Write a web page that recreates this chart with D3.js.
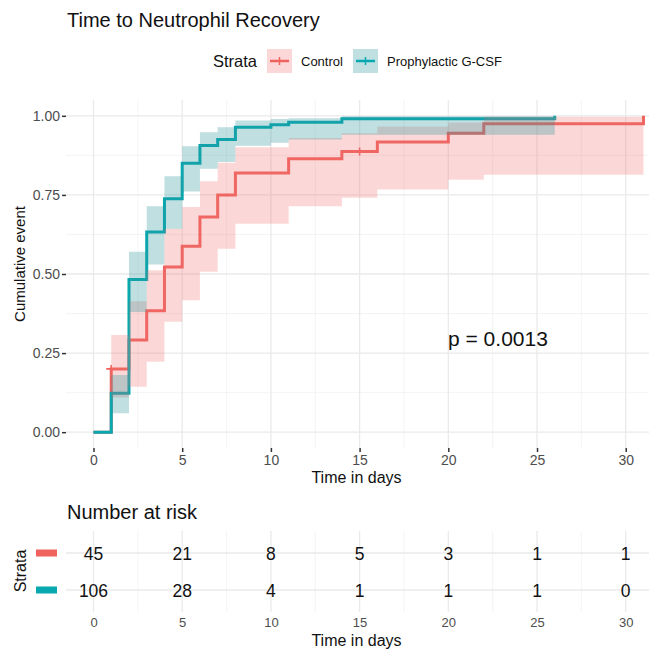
<!DOCTYPE html>
<html>
<head>
<meta charset="utf-8">
<script src="https://cdn.jsdelivr.net/npm/d3@7"></script>
<style>
body{margin:0;background:#fff;}
text{font-family:"Liberation Sans",Arial,sans-serif;}
</style>
</head>
<body>
<script>
// dane
var strata=["Control","Prophylactic G-CSF"];
var kolory=["#EF625E","#07A8B0"];
var koloryPasma=["#F07470","#2A969C"];
var przezroczystosc=[0.28,0.3];

var czasControl=[0,1,2,3,4,5,6,7,8,11,14,16,20,22,31];
var zdarzControl=[0,0.200,0.291,0.384,0.522,0.588,0.680,0.750,0.819,0.864,0.887,0.917,0.945,0.975,1];
var dolneControl=[0,0.110,0.144,0.223,0.349,0.417,0.507,0.580,0.659,0.714,0.741,0.767,0.798,0.814,1];
var gorneControl=[0,0.307,0.414,0.512,0.643,0.712,0.793,0.852,0.901,0.930,0.945,0.966,0.978,0.997,1];
var cenzControl=[1,15];

var czasGCSF=[0,1,2,3,4,5,6,7,8,10,11,14,26];
var zdarzGCSF=[0,0.123,0.483,0.633,0.738,0.850,0.906,0.925,0.964,0.972,0.980,0.991,1];
var dolneGCSF=[0,0.060,0.380,0.530,0.643,0.761,0.833,0.854,0.905,0.915,0.925,0.940,1];
var gorneGCSF=[0,0.181,0.570,0.714,0.809,0.904,0.948,0.964,0.985,0.990,0.992,0.999,1];
var cenzGCSF=[];

var czasyRyzyka=[0,5,10,15,20,25,30];
var ryzykoControl=[45,21,8,5,3,1,1];
var ryzykoGCSF=[106,28,4,1,1,1,0];

var tickiX=[0,5,10,15,20,25,30];
var tickiXmniejsze=[2.5,7.5,12.5,17.5,22.5,27.5];
var tickiY=[0,0.25,0.5,0.75,1];
var tickiYmniejsze=[0.125,0.375,0.625,0.875];
var pWartosc="p = 0.0013";

function zbuduj(czas,est,dol,gor)
{
	var punkty=[];
	for(var i=0;i<czas.length;i++)
		punkty.push({t:czas[i],est:est[i],dol:dol[i],gor:gor[i]});
	return punkty;
}
var krzywe=[zbuduj(czasControl,zdarzControl,dolneControl,gorneControl),
	zbuduj(czasGCSF,zdarzGCSF,dolneGCSF,gorneGCSF)];
var cenzury=[cenzControl,cenzGCSF];
var ryzyko=[ryzykoControl,ryzykoGCSF];

var svg=d3.select("body").append("svg")
	.attr("width",649)
	.attr("height",651);

var lewo=66, prawo=647, gora=100, dol=448;
var x=d3.scaleLinear().domain([-1.55,31.2]).range([lewo,prawo]);
var y=d3.scaleLinear().domain([-0.05,1.05]).range([dol,gora]);

//tytul
svg.append("text").attr("x",67).attr("y",27)
	.style("font-size","20px").style("fill","#111")
	.text("Time to Neutrophil Recovery");

//legenda
svg.append("text").attr("x",213).attr("y",67)
	.style("font-size","16.5px").style("fill","#111").text("Strata");
var legX=[267,353];
for(var k=0;k<2;k++)
{
	var g=svg.append("g").attr("transform","translate("+legX[k]+",49)");
	g.append("rect").attr("width",25).attr("height",24)
		.style("fill",koloryPasma[k]).style("opacity",przezroczystosc[k]);
	g.append("line").attr("x1",3).attr("x2",22).attr("y1",12).attr("y2",12)
		.style("stroke",kolory[k]).style("stroke-width",2.5);
	g.append("line").attr("x1",12.5).attr("x2",12.5).attr("y1",8).attr("y2",16)
		.style("stroke",kolory[k]).style("stroke-width",1.5);
	svg.append("text").attr("x",legX[k]+34).attr("y",66)
		.style("font-size","13px").style("fill","#111").text(strata[k]);
}

//siatka
var siatka=svg.append("g");
siatka.selectAll(".xm").data(tickiXmniejsze).enter().append("line")
	.attr("x1",function(d){return x(d);}).attr("x2",function(d){return x(d);})
	.attr("y1",gora).attr("y2",dol)
	.style("stroke","#EFEFEF").style("stroke-width",0.7);
siatka.selectAll(".ym").data(tickiYmniejsze).enter().append("line")
	.attr("x1",lewo).attr("x2",649)
	.attr("y1",function(d){return y(d);}).attr("y2",function(d){return y(d);})
	.style("stroke","#EFEFEF").style("stroke-width",0.7);
siatka.selectAll(".xM").data(tickiX).enter().append("line")
	.attr("x1",function(d){return x(d);}).attr("x2",function(d){return x(d);})
	.attr("y1",gora).attr("y2",dol)
	.style("stroke","#EAEAEA").style("stroke-width",1.3);
siatka.selectAll(".yM").data(tickiY).enter().append("line")
	.attr("x1",lewo).attr("x2",649)
	.attr("y1",function(d){return y(d);}).attr("y2",function(d){return y(d);})
	.style("stroke","#EAEAEA").style("stroke-width",1.3);

//osie
var osX=svg.append("g").attr("transform","translate(0,"+dol+")")
	.call(d3.axisBottom(x).tickValues(tickiX).tickSize(4).tickPadding(3));
var osY=svg.append("g").attr("transform","translate("+lewo+",0)")
	.call(d3.axisLeft(y).tickValues(tickiY).tickFormat(d3.format(".2f")).tickSize(4).tickPadding(2));
[osX,osY].forEach(function(o){
	o.select(".domain").remove();
	o.selectAll(".tick line").style("stroke","#333").style("stroke-width",1.5);
	o.selectAll(".tick text").style("font-size","14px").style("fill","#4D4D4D")
		.style("font-family","'Liberation Sans',Arial,sans-serif");
});
svg.append("text").attr("x",(lewo+prawo)/2).attr("y",483)
	.attr("text-anchor","middle").style("font-size","16px").style("fill","#111")
	.text("Time in days");
svg.append("text").attr("transform","translate(25,264) rotate(-90)")
	.attr("text-anchor","middle").style("font-size","15px").style("fill","#111")
	.text("Cumulative event");

//krzywe
var linia=d3.line().curve(d3.curveStepAfter)
	.x(function(d){return x(d.t);})
	.y(function(d){return y(d.est);});
var pasmo=d3.area().curve(d3.curveStepAfter)
	.x(function(d){return x(d.t);})
	.y0(function(d){return y(d.dol);})
	.y1(function(d){return y(d.gor);});
for(var k=0;k<2;k++)
{
	svg.append("path").attr("d",linia(krzywe[k]))
		.style("fill","none").style("stroke",kolory[k]).style("stroke-width",3);
	var kr=krzywe[k];
	for(var c=0;c<cenzury[k].length;c++)
	{
		var tc=cenzury[k][c], wart=0;
		for(var i=0;i<kr.length;i++)
			if(kr[i].t<=tc) wart=kr[i].est;
		svg.append("path")
			.attr("d","M"+(x(tc)-5)+","+y(wart)+"h10M"+x(tc)+","+(y(wart)-4)+"v8")
			.style("stroke",kolory[k]).style("stroke-width",1.6).style("fill","none");
	}
}
for(var k=0;k<2;k++)
{
	svg.append("path").attr("d",pasmo(krzywe[k]))
		.style("fill",koloryPasma[k]).style("opacity",przezroczystosc[k]).style("stroke","none");
}

//p
svg.append("text").attr("x",448).attr("y",346)
	.style("font-size","21px").style("fill","#111").text(pWartosc);

//tabela ryzyka
svg.append("text").attr("x",67).attr("y",519)
	.style("font-size","20px").style("fill","#111").text("Number at risk");
var rGora=531, rDol=612;
var yr=d3.scalePoint().domain(strata).range([553,590]);
var tab=svg.append("g");
tab.selectAll(".xm").data(tickiXmniejsze).enter().append("line")
	.attr("x1",function(d){return x(d);}).attr("x2",function(d){return x(d);})
	.attr("y1",rGora).attr("y2",rDol)
	.style("stroke","#EFEFEF").style("stroke-width",0.7);
tab.selectAll(".xM").data(tickiX).enter().append("line")
	.attr("x1",function(d){return x(d);}).attr("x2",function(d){return x(d);})
	.attr("y1",rGora).attr("y2",rDol)
	.style("stroke","#EAEAEA").style("stroke-width",1.3);
tab.selectAll(".yM").data(strata).enter().append("line")
	.attr("x1",lewo).attr("x2",649)
	.attr("y1",function(d){return yr(d);}).attr("y2",function(d){return yr(d);})
	.style("stroke","#EAEAEA").style("stroke-width",1.3);
for(var k=0;k<2;k++)
{
	tab.append("rect").attr("x",36).attr("y",yr(strata[k])-3.5)
		.attr("width",21).attr("height",7).style("fill",kolory[k]);
	tab.selectAll(".n"+k).data(czasyRyzyka).enter().append("text")
		.attr("x",function(d){return x(d);})
		.attr("y",yr(strata[k])+7)
		.attr("text-anchor","middle")
		.style("font-size","17.5px").style("fill","#111")
		.text(function(d,i){return ryzyko[k][i];});
}
var osXr=svg.append("g").attr("transform","translate(0,"+rDol+")")
	.call(d3.axisBottom(x).tickValues(tickiX).tickSize(0).tickPadding(6));
osXr.select(".domain").remove();
osXr.selectAll(".tick text").style("font-size","13px").style("fill","#4D4D4D")
	.style("font-family","'Liberation Sans',Arial,sans-serif");
svg.append("text").attr("x",(lewo+prawo)/2).attr("y",646)
	.attr("text-anchor","middle").style("font-size","16px").style("fill","#111")
	.text("Time in days");
svg.append("text").attr("transform","translate(26,571) rotate(-90)")
	.attr("text-anchor","middle").style("font-size","16px").style("fill","#111")
	.text("Strata");
</script>
</body>
</html>
